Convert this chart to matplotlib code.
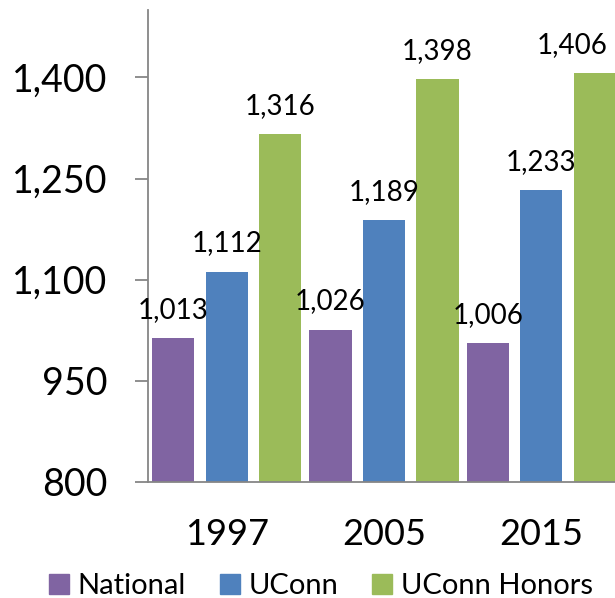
import matplotlib.pyplot as plt
from matplotlib.lines import Line2D
import numpy as np

plt.rcParams['font.family'] = ['Lato', 'DejaVu Sans']

years = ["1997", "2005", "2015"]
national = [1013, 1026, 1006]
uconn = [1112, 1189, 1233]
honors = [1316, 1398, 1406]
series_names = ["National", "UConn", "UConn Honors"]
colors = ["#8064A2", "#4F81BD", "#9BBB59"]
yticks = [800, 950, 1100, 1250, 1400]

fig = plt.figure(figsize=(6.15, 5.98), dpi=100)
ax = fig.add_axes([148 / 615, 1 - 482 / 598, 472 / 615, 472 / 598])

x = np.arange(len(years))
step = 0.34
width = 0.268
labels = []
for i, (vals, col) in enumerate(zip([national, uconn, honors], colors)):
    bars = ax.bar(x + (i - 1) * step, vals, width, color=col)
    for b, v in zip(bars, vals):
        t = ax.annotate(f"{v:,}", (b.get_x() + b.get_width() / 2, v),
                        xytext=(0, 14.5), textcoords="offset points",
                        ha="center", va="baseline", fontsize=20)
        labels.append(t)

ax.set_xlim(-0.5, 2.5)
ax.set_ylim(800, 1500)
ax.set_yticks(yticks)
ax.set_yticklabels([f"{t:,}" for t in yticks])
ax.set_xticks(x)
ax.set_xticklabels(years)

for s in ["top", "right"]:
    ax.spines[s].set_visible(False)
for s in ["left", "bottom"]:
    ax.spines[s].set_color("#868686")
    ax.spines[s].set_linewidth(1.3)

ax.tick_params(axis="y", length=9.5, width=1.3, color="#868686", pad=20, labelsize=27)
ax.tick_params(axis="x", length=0, pad=26, labelsize=26)

handles = [Line2D([], [], marker="s", linestyle="none", markersize=14, color=c) for c in colors]
fig.legend(handles, series_names, loc="center", bbox_to_anchor=(0.522, 1 - 586 / 598),
           ncol=3, frameon=False, fontsize=21, handlelength=0.7, handletextpad=0.3,
           columnspacing=1.15, borderpad=0)

# keep labels inside the figure, like the original does
renderer = fig.canvas.get_renderer()
for t in labels:
    bb = t.get_window_extent(renderer)
    over = bb.x1 - (fig.bbox.width - 7)
    if over > 0:
        t.set_position((-over * 72 / fig.dpi, 14.5))

fig.savefig("out.png", dpi=100)
